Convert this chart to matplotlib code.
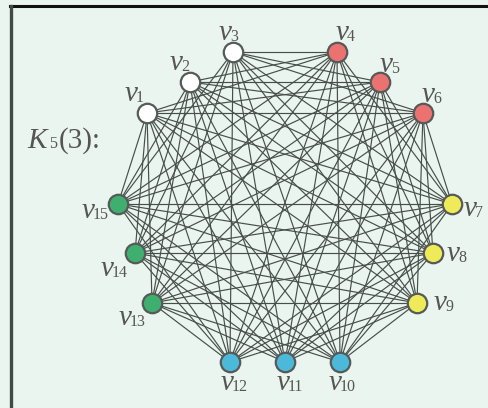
import itertools
import matplotlib
matplotlib.use("Agg")
import matplotlib.pyplot as plt

# vertex layout (picture coordinates, y grows downwards)
names = ["v1", "v2", "v3", "v4", "v5", "v6", "v7", "v8", "v9",
         "v10", "v11", "v12", "v13", "v14", "v15"]
node_x = [147, 190, 233, 337, 380, 423, 452, 433, 417, 340, 285, 230, 152, 135, 118]
node_y = [113, 82, 52, 52, 82, 113, 204, 253, 303, 362, 362, 362, 303, 253, 204]
parts = [0, 0, 0, 1, 1, 1, 2, 2, 2, 3, 3, 3, 4, 4, 4]
part_colors = ["#ffffff", "#ec7272", "#eeea58", "#4db9da", "#3faf6f"]

# label anchors: where the "v" ends and the index starts, on the baseline
label_x = [136, 181, 230, 347, 391, 433, 475, 458, 445, 340, 288, 232, 130, 112, 93]
label_y = [101, 70, 40, 40, 72, 102, 216, 261, 310, 390, 390, 390, 325, 276, 218]

SERIF = "Liberation Serif"
GREY = "#555555"

fig = plt.figure(figsize=(4.89, 4.08), dpi=100)
fig.patch.set_facecolor("#eaf5ef")
ax = fig.add_axes([0, 0, 1, 1])
ax.set_xlim(0, 489)
ax.set_ylim(408, 0)
ax.axis("off")

# edges of the complete multipartite graph
for i, j in itertools.combinations(range(len(names)), 2):
    if parts[i] != parts[j]:
        ax.plot([node_x[i], node_x[j]], [node_y[i], node_y[j]],
                color="#474f4b", linewidth=0.85, zorder=1)

for i in range(len(names)):
    ax.plot(node_x[i], node_y[i], "o", markersize=14,
            markerfacecolor=part_colors[parts[i]], markeredgecolor="#555a58",
            markeredgewidth=1.6, zorder=3)
    ax.text(label_x[i] + 1, label_y[i], "v", family=SERIF, style="italic",
            fontsize=21, color=GREY, ha="right", va="baseline")
    ax.text(label_x[i], label_y[i] + 1, names[i][1:], family=SERIF,
            fontsize=11.5, color=GREY, ha="left", va="baseline")

ax.text(27, 148, "K", family=SERIF, style="italic", fontsize=21,
        color=GREY, ha="left", va="baseline")
ax.text(49, 148, "5", family=SERIF, fontsize=11.5, color=GREY,
        ha="left", va="baseline")
ax.text(58.5, 148, "(3):", family=SERIF, fontsize=21, color=GREY,
        ha="left", va="baseline")

# frame
ax.plot([10, 489], [6, 6], color="#111111", linewidth=2.2, zorder=4)
ax.plot([11, 11], [6, 408], color="#3e4b47", linewidth=2.4, zorder=4)

fig.savefig("out.png", dpi=100, facecolor=fig.get_facecolor())
